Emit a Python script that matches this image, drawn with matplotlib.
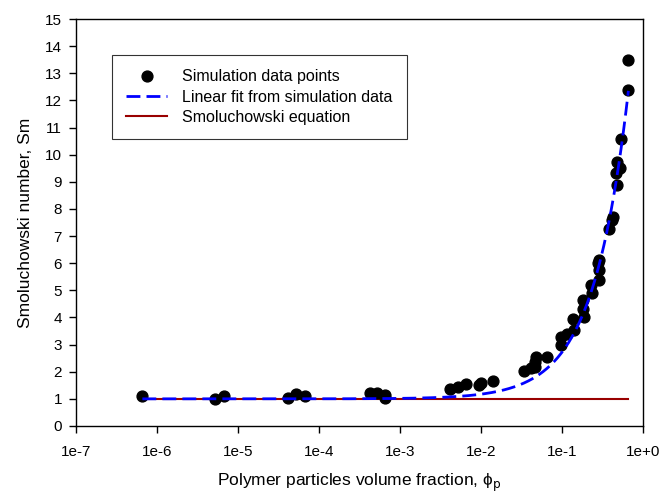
import matplotlib
matplotlib.use("Agg")
import matplotlib.pyplot as plt
import numpy as np

plt.rcParams['font.family'] = ['Liberation Sans', 'DejaVu Sans']

# simulation results: volume fraction and Smoluchowski number
phi_sim = [6.6e-7, 5.2e-6, 6.7e-6, 4.2e-5, 5.2e-5, 6.7e-5,
           4.3e-4, 5.2e-4, 6.6e-4, 6.6e-4,
           4.1e-3, 5.2e-3, 6.6e-3, 9.5e-3, 1.0e-2, 1.4e-2,
           3.4e-2, 4.2e-2, 4.6e-2, 4.7e-2, 4.8e-2, 6.6e-2,
           9.6e-2, 9.7e-2, 0.115, 0.138, 0.14, 0.18, 0.185, 0.183,
           0.23, 0.235, 0.28, 0.285, 0.29, 0.29,
           0.385, 0.41, 0.43, 0.46, 0.48, 0.48, 0.52, 0.54, 0.66, 0.66]
sm_sim = [1.10, 1.00, 1.12, 1.05, 1.18, 1.10,
          1.23, 1.20, 1.16, 1.05,
          1.38, 1.44, 1.54, 1.50, 1.58, 1.65,
          2.03, 2.12, 2.18, 2.36, 2.55, 2.55,
          2.98, 3.28, 3.40, 3.96, 3.53, 4.64, 4.02, 4.33,
          5.19, 4.89, 5.99, 5.75, 5.38, 6.11,
          7.25, 7.59, 7.71, 9.31, 8.88, 9.72, 9.50, 10.58, 12.39, 13.49]

# linear fit Sm = slope*phi + intercept
fit_slope = 17.2
fit_intercept = 1.0
phi_range = (6.6e-7, 0.66)

# Smoluchowski equation gives Sm = 1
sm_theory = 1.0

xtick_vals = [1e-7, 1e-6, 1e-5, 1e-4, 1e-3, 1e-2, 1e-1, 1e0]
xtick_labels = ['1e-7', '1e-6', '1e-5', '1e-4', '1e-3', '1e-2', '1e-1', '1e+0']

fig = plt.figure(figsize=(6.62, 4.98), dpi=100)
ax = fig.add_axes([0.1148, 0.1446, 0.8565, 0.8172])

phi_line = np.logspace(np.log10(phi_range[0]), np.log10(phi_range[1]), 400)

ax.plot(phi_sim, sm_sim, 'o', color='black', markersize=7.8,
        label='Simulation data points', zorder=3)
ax.plot(phi_line, np.polyval([fit_slope, fit_intercept], phi_line),
        linestyle=(0, (5, 2.2)), color='#0000ff', linewidth=2,
        label='Linear fit from simulation data', zorder=4)
ax.plot(phi_range, [sm_theory, sm_theory], color='#990000', linewidth=1.5,
        label='Smoluchowski equation', zorder=2)

ax.set_xscale('log')
ax.set_xlim(1e-7, 1)
ax.set_ylim(0, 15)
ax.set_xticks(xtick_vals)
ax.set_xticklabels(xtick_labels)
ax.xaxis.set_minor_locator(matplotlib.ticker.NullLocator())
ax.set_yticks(range(0, 16))
ax.tick_params(direction='out', length=5, width=1, labelsize=11)
ax.tick_params(axis='x', pad=9)
ax.tick_params(axis='y', pad=5)

for sp in ax.spines.values():
    sp.set_linewidth(1.0)

ax.set_xlabel('Polymer particles volume fraction, \u03d5$_\\mathrm{p}$',
              fontsize=12.5, labelpad=9)
ax.set_ylabel('Smoluchowski number, Sm', fontsize=12.5, labelpad=9)

leg = ax.legend(loc='upper left', bbox_to_anchor=(0.0635, 0.9115),
                borderaxespad=0, fontsize=11.5, frameon=True, fancybox=False,
                edgecolor='black', handlelength=2.55, handletextpad=0.95,
                borderpad=0.9, labelspacing=0.32)
leg.get_frame().set_linewidth(0.8)

fig.savefig('out.png', dpi=100)
